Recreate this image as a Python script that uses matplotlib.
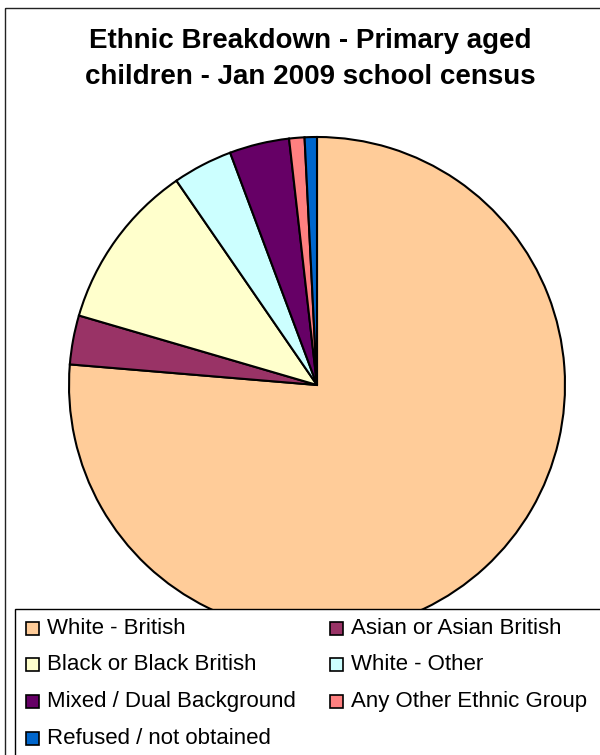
import matplotlib
matplotlib.use("Agg")
import matplotlib.pyplot as plt
from matplotlib.patches import Rectangle

plt.rcParams['font.family'] = ['Liberation Sans', 'DejaVu Sans']

# Jan 2009 school census, primary aged children (% of pupils)
groups = ['White - British', 'Asian or Asian British', 'Black or Black British',
          'White - Other', 'Mixed / Dual Background', 'Any Other Ethnic Group',
          'Refused / not obtained']
shares = [76.4, 3.2, 10.9, 3.9, 3.9, 1.0, 0.8]
colours = ['#FFCC99', '#993366', '#FFFFCC', '#CCFFFF', '#660066', '#FF8080', '#0066CC']

W, H = 600, 755
fig = plt.figure(figsize=(W / 100, H / 100), dpi=100)
fig.patch.set_facecolor('white')

# pie, centred at (317, 385) px with radius 248 px
cx, cy, r = 317, 385, 248
ax = fig.add_axes([(cx - r) / W, (H - cy - r) / H, 2 * r / W, 2 * r / H])
ax.pie(shares, colors=colours, startangle=90, counterclock=False,
       wedgeprops=dict(edgecolor='black', linewidth=1.5))
ax.set_xlim(-1, 1)
ax.set_ylim(-1, 1)
ax.set_aspect('auto')
ax.axis('off')

fig.text(310 / W, 1 - 59 / H,
         'Ethnic Breakdown - Primary aged\nchildren - Jan 2009 school census',
         ha='center', va='center', fontsize=20, fontweight='bold',
         linespacing=1.55)

# overlay in pixel coordinates for the frames and the legend
ov = fig.add_axes([0, 0, 1, 1], zorder=3)
ov.set_xlim(0, W)
ov.set_ylim(H, 0)
ov.axis('off')
ov.patch.set_alpha(0)

ov.add_patch(Rectangle((5, 8), 620, 780, facecolor='none', edgecolor='#222222',
                       linewidth=1.0, clip_on=False))
ov.add_patch(Rectangle((15, 609), 620, 180, facecolor='white', edgecolor='black',
                       linewidth=1.0, clip_on=False))

col_x = [26, 330]
row_y = [628, 664, 701, 738]
for i, (name, c) in enumerate(zip(groups, colours)):
    x0 = col_x[i % 2]
    y0 = row_y[i // 2]
    ov.add_patch(Rectangle((x0, y0 - 6.5), 13, 13, facecolor=c, edgecolor='black',
                           linewidth=1.2))
    ov.text(x0 + 21, y0, name, ha='left', va='center', fontsize=16)

fig.savefig('out.png', dpi=100)
